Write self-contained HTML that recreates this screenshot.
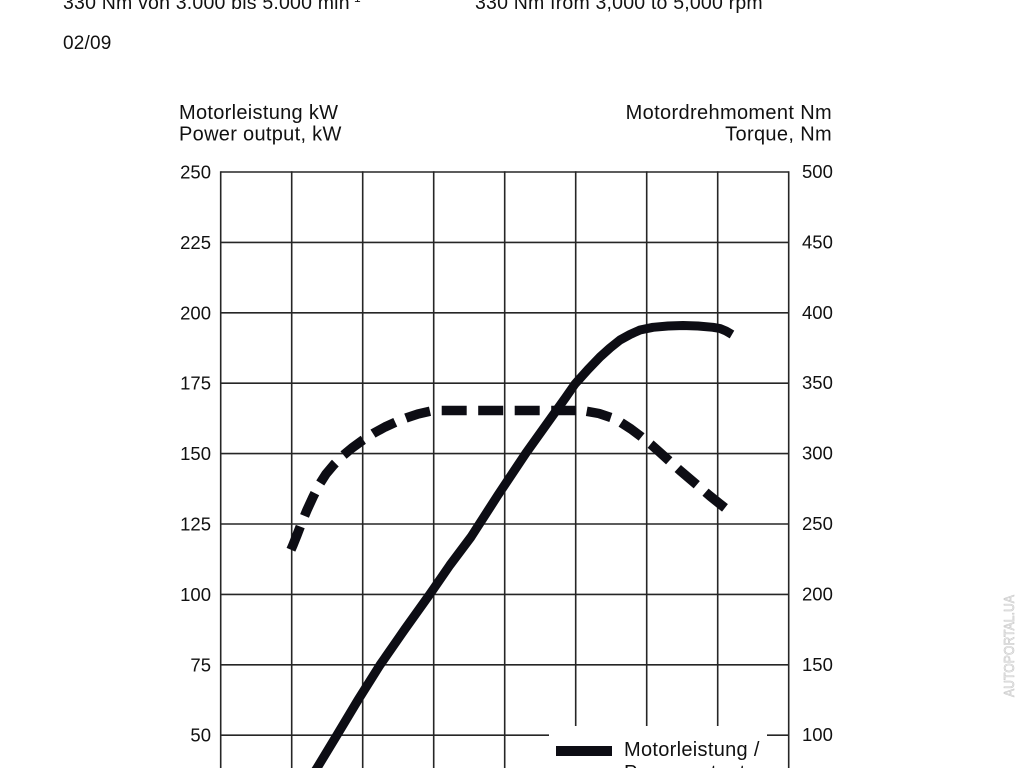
<!DOCTYPE html>
<html>
<head>
<meta charset="utf-8">
<style>
  html, body { margin:0; padding:0; background:#ffffff; }
  body { width:1024px; height:768px; overflow:hidden; }
  svg { display:block; }
  text { font-family: "Liberation Sans", Arial, sans-serif; fill:#111; }
</style>
</head>
<body>
<svg width="1024" height="768" viewBox="0 0 1024 768" xmlns="http://www.w3.org/2000/svg">
  <rect x="0" y="0" width="1024" height="768" fill="#ffffff"/>

  <!-- header text -->
  <text x="63" y="9" font-size="19.5" letter-spacing="0.2">330 Nm von 3.000 bis 5.000 min<tspan font-size="12" dy="-7">-1</tspan></text>
  <text x="475" y="9" font-size="19.5" letter-spacing="0.2">330 Nm from 3,000 to 5,000 rpm</text>
  <text x="63" y="49" font-size="19" letter-spacing="0.2">02/09</text>

  <!-- axis titles -->
  <text x="179" y="119" font-size="20" letter-spacing="0.3">Motorleistung kW</text>
  <text x="179" y="140.5" font-size="20" letter-spacing="0.3">Power output, kW</text>
  <text x="832" y="119" font-size="20" letter-spacing="0.35" text-anchor="end">Motordrehmoment Nm</text>
  <text x="832" y="140.5" font-size="20" letter-spacing="0.35" text-anchor="end">Torque, Nm</text>

  <!-- grid -->
  <g stroke="#262626" stroke-width="1.6" fill="none">
    <line x1="220.7" y1="172" x2="788.7" y2="172"/>
    <line x1="220.7" y1="242.4" x2="788.7" y2="242.4"/>
    <line x1="220.7" y1="312.8" x2="788.7" y2="312.8"/>
    <line x1="220.7" y1="383.2" x2="788.7" y2="383.2"/>
    <line x1="220.7" y1="453.6" x2="788.7" y2="453.6"/>
    <line x1="220.7" y1="524" x2="788.7" y2="524"/>
    <line x1="220.7" y1="594.4" x2="788.7" y2="594.4"/>
    <line x1="220.7" y1="664.8" x2="788.7" y2="664.8"/>
    <line x1="220.7" y1="735.2" x2="788.7" y2="735.2"/>

    <line x1="220.7" y1="171.2" x2="220.7" y2="768"/>
    <line x1="291.7" y1="171.2" x2="291.7" y2="768"/>
    <line x1="362.7" y1="171.2" x2="362.7" y2="768"/>
    <line x1="433.7" y1="171.2" x2="433.7" y2="768"/>
    <line x1="504.7" y1="171.2" x2="504.7" y2="768"/>
    <line x1="575.7" y1="171.2" x2="575.7" y2="768"/>
    <line x1="646.7" y1="171.2" x2="646.7" y2="768"/>
    <line x1="717.7" y1="171.2" x2="717.7" y2="768"/>
    <line x1="788.7" y1="171.2" x2="788.7" y2="768"/>
  </g>

  <!-- left tick labels -->
  <g font-size="18.5" text-anchor="end">
    <text x="211" y="178.5">250</text>
    <text x="211" y="248.9">225</text>
    <text x="211" y="319.3">200</text>
    <text x="211" y="389.7">175</text>
    <text x="211" y="460.1">150</text>
    <text x="211" y="530.5">125</text>
    <text x="211" y="600.9">100</text>
    <text x="211" y="671.3">75</text>
    <text x="211" y="741.7">50</text>
  </g>
  <!-- right tick labels -->
  <g font-size="18.5">
    <text x="802" y="178">500</text>
    <text x="802" y="248.4">450</text>
    <text x="802" y="318.8">400</text>
    <text x="802" y="389.2">350</text>
    <text x="802" y="459.6">300</text>
    <text x="802" y="530">250</text>
    <text x="802" y="600.4">200</text>
    <text x="802" y="670.8">150</text>
    <text x="802" y="741.2">100</text>
  </g>

  <!-- power curve (solid) -->
  <polyline fill="none" stroke="#0d0d14" stroke-width="9" stroke-linejoin="round" stroke-linecap="butt"
    points="300,795 317,768 337,735 358,700 380,665 405,629 430,594 450,565 471,537 498,495 526,453 541,432 556,411 566,397 575,384 588,369.5 600,357 610,348 620,340 630,334.5 640,330 653,327.3 668,326 683,325.5 698,326 713,327.3 720,328.5 726,331 732,334.5"/>

  <!-- torque curve (dashed) -->
  <g fill="none" stroke="#0d0d14" stroke-width="9.5" stroke-dasharray="25 11.5" stroke-linecap="butt" stroke-linejoin="round">
    <polyline points="430,411.3 418,414 406,418 397,421.5 385,427 374,433 363,440 352,448 343,455.5 334,464.5 326,474 319,485 313,497 307,510 302,522 297,535 293,545 290,552"/>
    <line x1="441.7" y1="410.5" x2="577" y2="410.5"/>
    <polyline points="586.7,411.3 599,413.5 611,417.5 621,422.5 631,429 641,436.5 651,444.5 660,452.5 670,461.5 680,470.5 690,479 700,487.5 710,496 720,504 727,509.5"/>
  </g>

  <!-- legend -->
  <rect x="549" y="726" width="218" height="50" fill="#ffffff"/>
  <rect x="556" y="746" width="56" height="10" fill="#0d0d14"/>
  <text x="624" y="756" font-size="20" letter-spacing="0.3">Motorleistung /</text>
  <text x="624" y="779" font-size="20" letter-spacing="0.3">Power output</text>

  <!-- watermark -->
  <text x="0" y="0" font-size="15" style="fill:#f2f2f2" stroke="#c4c4c4" stroke-width="0.6"
        transform="translate(1014,697) rotate(-90)" textLength="102" lengthAdjust="spacingAndGlyphs">AUTOPORTAL.UA</text>
</svg>
</body>
</html>
